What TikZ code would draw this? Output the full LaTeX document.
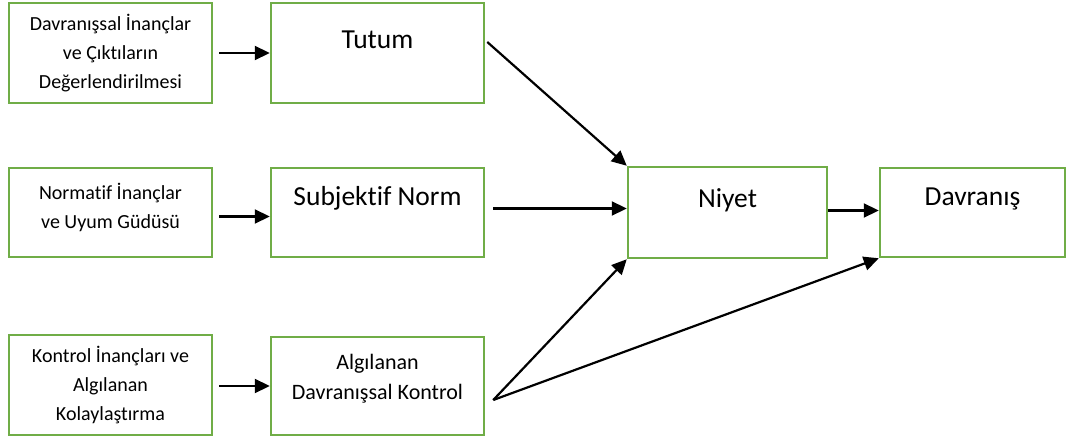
\documentclass[tikz,border=0pt]{standalone}
\usepackage{fontspec}
\setmainfont{Carlito}[Ligatures=NoCommon]
\usetikzlibrary{arrows.meta, calc}
\definecolor{boxgreen}{HTML}{70AD47}
\tikzset{
  srcbox/.style={
    draw=boxgreen,
    line width=2.5pt,
    align=center,
    inner sep=0pt,
    font=\fontsize{20}{29}\selectfont,
  },
  mainbox/.style={
    draw=boxgreen,
    line width=2.5pt,
    inner sep=0pt,
  },
  boxtext/.style={font=\fontsize{27.5}{30}\selectfont, align=center},
  arr/.style={-{Triangle[length=15pt, width=14pt]}, line width=2.2pt, draw=black},
}
\begin{document}
\begin{tikzpicture}[x=1pt, y=-1pt]
\useasboundingbox (0,0) rectangle (1070,438);

% --- Belief boxes (left column) ---
\node[srcbox, minimum width=203, minimum height=100] (davinanc) at (110.5, 53) {Davranışsal İnançlar\\ve Çıktıların\\Değerlendirilmesi};
\node[srcbox, minimum width=203, minimum height=89, text depth=14pt] (norminanc) at (110.5, 212.5) {Normatif İnançlar\\ve Uyum Güdüsü};
\node[srcbox, minimum width=203, minimum height=100] (kontinanc) at (110.5, 385) {Kontrol İnançları ve\\Algılanan\\Kolaylaştırma};

% --- Construct boxes (middle column) ---
\node[mainbox, minimum width=213, minimum height=100, label={[boxtext, yshift=13pt]center:Tutum}] (tutum) at (377.5, 53) {};
\node[mainbox, minimum width=213, minimum height=89, label={[boxtext, yshift=14pt]center:Subjektif Norm}] (subjnorm) at (377.5, 212.5) {};
\node[mainbox, minimum width=213, minimum height=98, label={[srcbox, draw=none, font=\fontsize{22}{30}\selectfont, yshift=7pt]center:Algılanan\\Davranışsal Kontrol}] (adk) at (377.5, 386) {};

% --- Intention and behaviour ---
\node[mainbox, minimum width=199, minimum height=91, label={[boxtext, yshift=12pt]center:Niyet}] (niyet) at (727.5, 212.5) {};
\node[mainbox, minimum width=185, minimum height=89, label={[boxtext, yshift=14pt]center:Davranış}] (davranis) at (972.5, 212.5) {};

\coordinate (adkout) at ($(adk.east)+(8,14)$);

% --- Arrows ---
\draw[arr] ($(davinanc.east)+(6,0)$) -- (tutum.west);
\draw[arr] ($(norminanc.east)+(6,4)$) -- ($(subjnorm.west)+(0,4)$);
\draw[arr] ($(kontinanc.east)+(6,1)$) -- ($(adk.west)+(0,0)$);

\draw[arr] ($(tutum.east)+(2,-11)$) -- (niyet.north west);
\draw[arr] ($(subjnorm.east)+(8,-4)$) -- ($(niyet.west)+(0,-4)$);
\draw[arr] (adkout) -- (niyet.south west);
\draw[arr] (adkout) -- (davranis.south west);
\draw[arr] ($(niyet.east)+(0,-2)$) -- ($(davranis.west)+(0,-2)$);

\end{tikzpicture}
\end{document}
